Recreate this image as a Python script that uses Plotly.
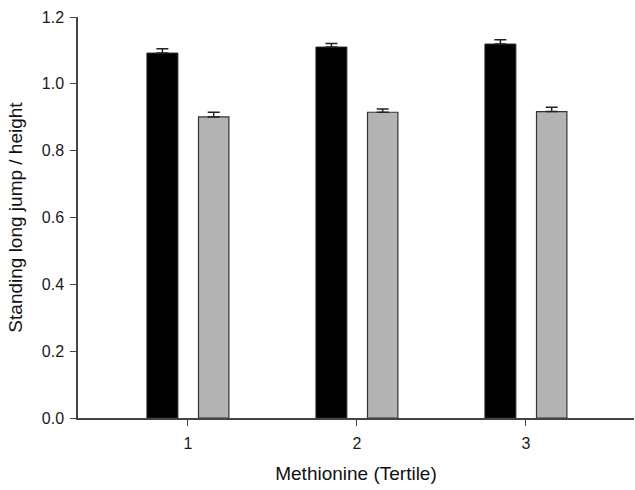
import plotly.graph_objects as go

categories = [1, 2, 3]
tick_labels = ["1", "2", "3"]
series_a = [1.092, 1.110, 1.119]
err_a = [0.013, 0.011, 0.013]
series_b = [0.901, 0.915, 0.917]
err_b = [0.014, 0.010, 0.013]

fig = go.Figure()
fig.add_trace(go.Bar(
    x=categories, y=series_a, width=0.183, offset=-0.242,
    marker=dict(color="#000000", line=dict(color="#222222", width=1)),
    error_y=dict(type="data", array=err_a, arrayminus=[0, 0, 0], symmetric=False,
                 color="#222222", thickness=1.5, width=6),
    showlegend=False,
))
fig.add_trace(go.Bar(
    x=categories, y=series_b, width=0.180, offset=0.063,
    marker=dict(color="#b3b3b3", line=dict(color="#333333", width=1.2)),
    error_y=dict(type="data", array=err_b, arrayminus=[0, 0, 0], symmetric=False,
                 color="#222222", thickness=1.5, width=6),
    showlegend=False,
))

font = "Liberation Sans, Arial, sans-serif"
fig.update_layout(
    width=635, height=490,
    margin=dict(l=78, r=1, t=17, b=72),
    plot_bgcolor="white", paper_bgcolor="white",
    font=dict(family=font, color="#1a1a1a"),
    xaxis=dict(
        range=[0.35, 3.64], tickmode="array", tickvals=categories, ticktext=tick_labels,
        showline=True, linecolor="#444444", linewidth=1.5, ticks="outside",
        ticklen=6, tickwidth=1.2, tickcolor="#444444", showgrid=False, zeroline=False,
        ticklabelstandoff=4,
        tickfont=dict(size=16, family=font, color="#1a1a1a"),
        title=dict(text="Methionine (Tertile)", font=dict(size=19, family=font, color="#111111"), standoff=16),
    ),
    yaxis=dict(
        range=[0, 1.2], tickmode="array", tickvals=[0, 0.2, 0.4, 0.6, 0.8, 1.0, 1.2],
        ticktext=["0.0", "0.2", "0.4", "0.6", "0.8", "1.0", "1.2"],
        showline=True, linecolor="#444444", linewidth=1.5, ticks="outside",
        ticklen=6, tickwidth=1.2, tickcolor="#444444", showgrid=False, zeroline=False,
        ticklabelstandoff=3,
        tickfont=dict(size=16, family=font, color="#1a1a1a"),
        title=dict(text="Standing long jump / height", font=dict(size=19, family=font, color="#111111"), standoff=14),
    ),
)

fig.write_html("out.html", config={"displayModeBar": False},
               post_script="document.body.style.margin='0';")
